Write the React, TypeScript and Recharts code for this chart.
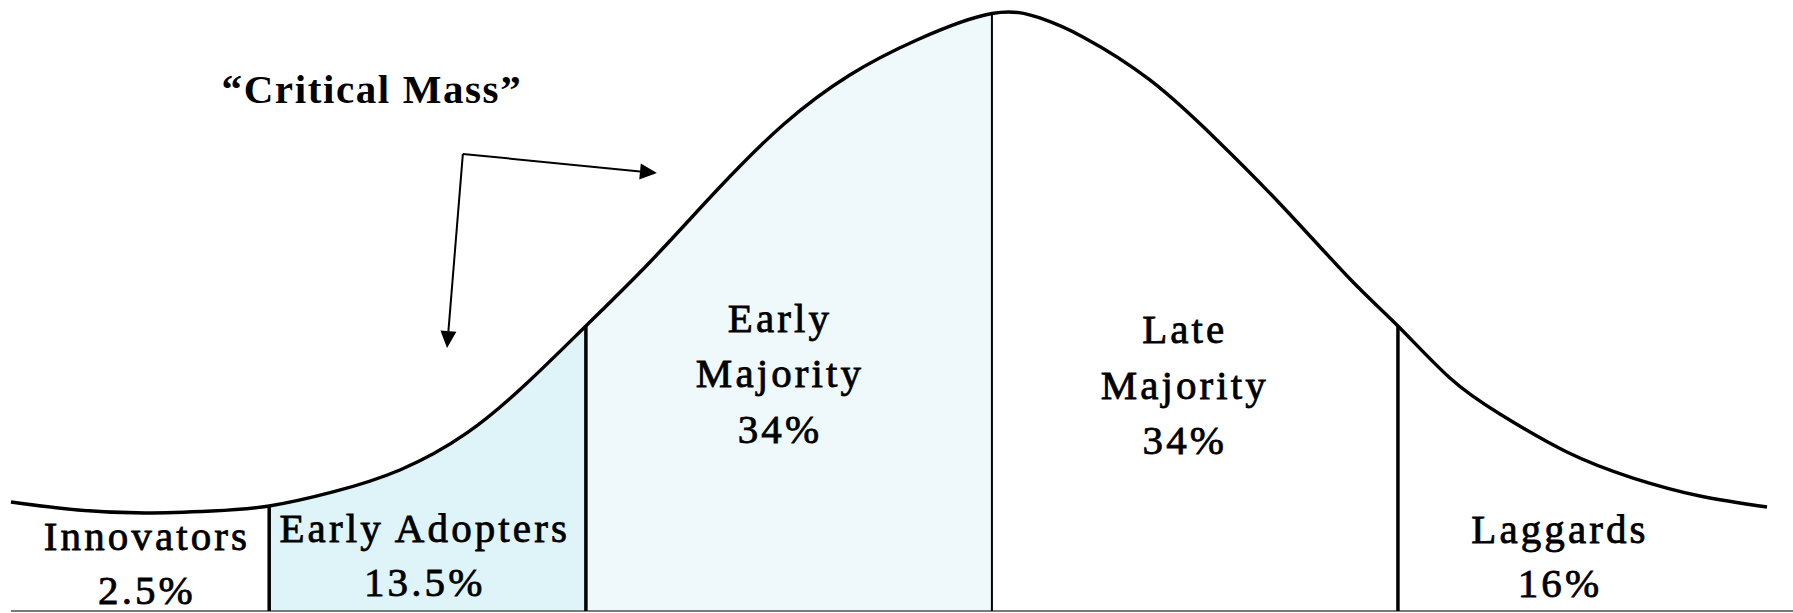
import React from 'react';
import { ComposedChart, Area, Line, XAxis, YAxis, ReferenceLine, ReferenceDot } from 'recharts';

// Adoption curve: x = position in standard deviations from mean adoption time, y = relative share (peak = 100)
const curveX = [-2.416, -2.251, -2.086, -1.921, -1.78, -1.623, -1.458, -1.293, -1.145, -1.0, -0.842, -0.677, -0.512, -0.35, -0.185, 0, 0.118, 0.224, 0.389, 0.554, 0.717, 0.882, 1.0, 1.128, 1.251, 1.416, 1.579, 1.744, 1.909];
const curveY = [18.2, 16.86, 16.36, 16.69, 17.53, 19.87, 23.54, 29.72, 38.06, 47.58, 58.26, 70.28, 81.3, 89.48, 95.33, 99.75, 99.0, 95.83, 88.65, 78.63, 67.45, 55.43, 47.58, 38.9, 32.89, 26.54, 22.2, 19.2, 17.36];

const categories = [['Innovators'], ['Early Adopters'], ['Early', 'Majority'], ['Late', 'Majority'], ['Laggards']];
const shares = ['2.5%', '13.5%', '34%', '34%', '16%'];
const boundaries = [-1.78, -1.0, 0, 1.0];
const callout = '\u201CCritical Mass\u201D';

// annotation anchors (data units)
const labelAnchorX = [-2.081, -1.397, -0.522, 0.475, 1.399];
const labelAnchorY = [10.2, 11.5, 46.6, 44.7, 11.35];
const calloutAnchor = { x: -1.527, y: 84.8 };
const arrowCorner = { x: -1.303, y: 76.3 };
const arrowTips = [{ x: -1.342, y: 43.9 }, { x: -0.825, y: 73.1 }];

const X_DOMAIN: [number, number] = [-2.443, 1.973];
const Y_DOMAIN: [number, number] = [0, 102];

const data = curveX.map((x, i) => ({
  x,
  y: curveY[i],
  ea: x >= boundaries[0] && x <= boundaries[1] ? curveY[i] : null,
  em: x >= boundaries[1] && x <= boundaries[2] ? curveY[i] : null,
}));

const heightAt = (b: number) => curveY[curveX.indexOf(b)];

const FONT = "'Liberation Serif', 'Times New Roman', serif";

const arrowShape = (p: any) => {
  const { x1, y1, x2, y2 } = p;
  const ang = Math.atan2(y2 - y1, x2 - x1);
  const L = 17;
  const W = 8;
  const bx = x2 - L * Math.cos(ang);
  const by = y2 - L * Math.sin(ang);
  const px = -Math.sin(ang) * W;
  const py = Math.cos(ang) * W;
  return (
    <g>
      <line x1={x1} y1={y1} x2={bx} y2={by} stroke="#000" strokeWidth={2} />
      <polygon points={`${x2},${y2} ${bx + px},${by + py} ${bx - px},${by - py}`} fill="#000" />
    </g>
  );
};

const makeLabel = (lines: string[], share: string, lh: number) => (p: any) => (
  <text
    x={p.cx}
    y={p.cy}
    textAnchor="middle"
    fill="#000"
    stroke="#000"
    strokeWidth={0.8}
    fontFamily={FONT}
    fontSize={41}
    style={{ fontFamily: FONT, fontSize: 41, letterSpacing: 3.1 }}
  >
    {[...lines, share].map((t, i) => (
      <tspan key={i} x={p.cx} dy={i === 0 ? 0 : lh}>
        {t}
      </tspan>
    ))}
  </text>
);

const calloutShape = (p: any) => (
  <text
    x={p.cx}
    y={p.cy}
    textAnchor="middle"
    fill="#000"
    fontFamily={FONT}
    fontSize={41}
    fontWeight="bold"
    style={{ fontFamily: FONT, fontSize: 41, fontWeight: 'bold', letterSpacing: 1.6 }}
  >
    {callout}
  </text>
);

export default function App() {
  return (
    <div style={{ position: 'absolute', left: 0, top: 0, width: 1793, height: 613, background: '#fff' }}>
      <ComposedChart width={1793} height={613} data={data} margin={{ top: 0, right: 0, bottom: 2, left: 0 }}>
        <XAxis type="number" dataKey="x" domain={X_DOMAIN} hide allowDataOverflow />
        <YAxis type="number" domain={Y_DOMAIN} hide allowDataOverflow />
        <Area
          type="natural"
          dataKey="ea"
          stroke="none"
          fill="#dff4f8"
          fillOpacity={1}
          isAnimationActive={false}
          dot={false}
          activeDot={false}
        />
        <Area
          type="natural"
          dataKey="em"
          stroke="none"
          fill="#eff9fc"
          fillOpacity={1}
          isAnimationActive={false}
          dot={false}
          activeDot={false}
        />
        <ReferenceLine
          segment={[{ x: curveX[0], y: 0 }, { x: X_DOMAIN[1], y: 0 }]}
          stroke="#7a7a7a"
          strokeWidth={2}
        />
        {boundaries.map((b, i) => (
          <ReferenceLine
            key={'b' + i}
            segment={[{ x: b, y: 0 }, { x: b, y: heightAt(b) }]}
            stroke="#000"
            strokeWidth={b === 0 ? 2 : 3.5}
          />
        ))}
        <Line
          type="natural"
          dataKey="y"
          stroke="#000"
          strokeWidth={3.4}
          dot={false}
          activeDot={false}
          isAnimationActive={false}
        />
        {arrowTips.map((t, i) => (
          <ReferenceLine
            key={'a' + i}
            segment={[arrowCorner, t]}
            shape={arrowShape}
          />
        ))}
        <ReferenceDot x={calloutAnchor.x} y={calloutAnchor.y} r={0} shape={calloutShape} />
        {categories.map((c, i) => (
          <ReferenceDot
            key={'l' + i}
            x={labelAnchorX[i]}
            y={labelAnchorY[i]}
            r={0}
            shape={makeLabel(c, shares[i], c.length > 1 ? 55.5 : 54)}
          />
        ))}
      </ComposedChart>
    </div>
  );
}
